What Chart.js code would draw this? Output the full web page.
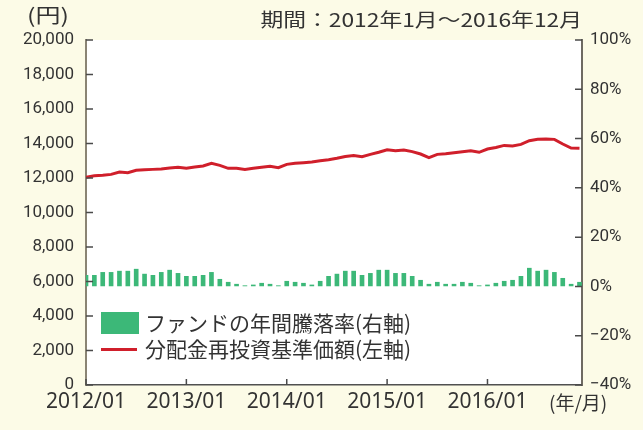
<!DOCTYPE html>
<html><head><meta charset="utf-8">
<script src="https://cdn.jsdelivr.net/npm/chart.js@4.4.0/dist/chart.umd.min.js"></script>
<style>
html,body{margin:0;padding:0;background:#fcfbe7;}
#wrap{position:relative;width:643px;height:430px;overflow:hidden;background:#fcfbe7;}
canvas{position:absolute;left:0;top:0;}
.t{position:absolute;font-family:'Noto Sans CJK JP','Noto Sans',sans-serif;color:#333;white-space:nowrap;line-height:1;}
</style></head><body>
<div id="wrap">
<canvas id="c" width="643" height="430"></canvas>
<div class="t" id="title" style="right:61px;top:9px;font-size:19px;transform:scaleX(1.2);transform-origin:right center;">期間：2012年1月～2016年12月</div>
<div class="t" id="unitL" style="left:27px;top:5px;font-size:20px;transform:scaleX(1.25);transform-origin:left center;">(円)</div>
<div class="t" id="unitX" style="left:549px;top:392px;font-size:19px;">(年/月)</div>
<div style="position:absolute;left:101px;top:312px;width:38px;height:22px;background:#3cb878;"></div>
<div class="t" style="left:145px;top:312px;font-size:21px;">ファンドの年間騰落率(右軸)</div>
<div style="position:absolute;left:101px;top:347.5px;width:36px;height:3px;background:#d01f2b;"></div>
<div class="t" style="left:145px;top:338px;font-size:21px;">分配金再投資基準価額(左軸)</div>
</div>
<script>
// ---- data ----
const years = ['2012','2013','2014','2015','2016'];
const months = [];
years.forEach(y => { for (let m = 1; m <= 12; m++) months.push(y + '/' + String(m).padStart(2,'0')); });

const navValues = [
  12040,12130,12155,12210,12350,12310,12445,12480,12500,12520,12580,12620,
  12560,12640,12700,12850,12730,12560,12560,12500,12560,12620,12680,12600,
  12790,12850,12890,12930,13000,13060,13140,13250,13310,13230,13370,13490,
  13640,13580,13620,13530,13390,13180,13370,13410,13470,13520,13580,13490,
  13680,13770,13890,13860,13950,14160,14240,14260,14240,13970,13740,13720
];
const annualReturn = [
  4.5,4.5,5.7,5.7,6.2,6.2,7.0,5.0,4.5,5.7,6.6,5.3,
  4.1,4.1,4.5,5.7,2.9,1.7,0.9,0.3,0.6,1.3,0.9,0.3,
  2.1,1.7,1.3,0.6,2.1,4.1,5.0,6.2,6.2,4.5,5.3,6.6,
  6.6,5.3,5.3,4.1,2.5,0.9,1.7,0.9,0.9,1.7,1.3,0.3,
  0.6,1.3,2.1,2.5,4.1,7.4,6.2,6.6,5.7,3.3,0.9,1.7
];
const xTickIndex = [0,12,24,36,48];
const xTickLabels = ['2012/01','2013/01','2014/01','2015/01','2016/01'];
const leftTickValues = [0,2000,4000,6000,8000,10000,12000,14000,16000,18000,20000];
const rightTickValues = [-40,-20,0,20,40,60,80,100];

const RED = '#d01f2b', GREEN = '#3cb878';

const bgPlugin = {
  id: 'bg',
  beforeDraw(chart) {
    const {ctx, chartArea: a} = chart;
    ctx.save();
    ctx.fillStyle = '#ffffff';
    ctx.fillRect(a.left, a.top, a.right - a.left, a.bottom - a.top);
    ctx.restore();
  }
};
const innerTicks = {
  id: 'innerTicks',
  afterDraw(chart) {
    const {ctx, chartArea: a, scales} = chart;
    ctx.save();
    ctx.strokeStyle = '#4a4a4a';
    ctx.lineWidth = 1.5;
    ctx.beginPath();
    scales.yL.ticks.forEach(t => { const y = scales.yL.getPixelForValue(t.value); ctx.moveTo(a.left, y); ctx.lineTo(a.left + 7, y); });
    scales.yR.ticks.forEach(t => { const y = scales.yR.getPixelForValue(t.value); ctx.moveTo(a.right, y); ctx.lineTo(a.right - 7, y); });
    scales.x.ticks.forEach(t => { const x = scales.x.getPixelForValue(t.value); ctx.moveTo(x, a.bottom); ctx.lineTo(x, a.bottom - 6); });
    ctx.stroke();
    ctx.restore();
  }
};

const tickFont = {family: "Roboto, sans-serif", size: 17};

new Chart(document.getElementById('c'), {
  type: 'bar',
  data: {
    datasets: [
      {
        type: 'line',
        label: '分配金再投資基準価額(左軸)',
        data: navValues.map((v, i) => ({x: i, y: v})),
        yAxisID: 'yL',
        borderColor: RED,
        borderWidth: 3,
        pointRadius: 0,
        tension: 0,
        order: 1
      },
      {
        type: 'bar',
        label: 'ファンドの年間騰落率(右軸)',
        data: annualReturn.map((v, i) => ({x: i, y: v})),
        yAxisID: 'yR',
        backgroundColor: GREEN,
        barThickness: 4,
        order: 2
      }
    ]
  },
  options: {
    responsive: false,
    devicePixelRatio: 1,
    animation: false,
    layout: {padding: {top: 40, left: 0, right: 0, bottom: 0}},
    plugins: {legend: {display: false}, tooltip: {enabled: false}},
    scales: {
      x: {
        type: 'linear',
        min: 0, max: 59.3,
        offset: false,
        grid: {display: true, offset: false, drawOnChartArea: false, drawTicks: false},
        border: {display: true, color: '#505050', width: 1.5},
        afterBuildTicks: s => { s.ticks = xTickIndex.map(v => ({value: v})); },
        afterFit: s => { s.height = 45; },
        ticks: {
          autoSkip: false, maxRotation: 0, padding: 4,
          color: '#333',
          font: {family: "'Noto Sans', Roboto, sans-serif", size: 21},
          callback: v => xTickLabels[xTickIndex.indexOf(v)]
        }
      },
      yL: {
        position: 'left',
        min: 0, max: 20000,
        grid: {display: true, drawOnChartArea: false, drawTicks: false},
        border: {display: true, color: '#8a8474', width: 2},
        afterBuildTicks: s => { s.ticks = leftTickValues.map(v => ({value: v})); },
        afterFit: s => { s.width = 86; },
        ticks: {
          padding: 12, color: '#333', font: tickFont,
          callback: v => v.toLocaleString('en-US')
        }
      },
      yR: {
        position: 'right',
        min: -40, max: 100,
        grid: {display: true, drawOnChartArea: false, drawTicks: false},
        border: {display: true, color: '#6e6a62', width: 2},
        afterBuildTicks: s => { s.ticks = rightTickValues.map(v => ({value: v})); },
        afterFit: s => { s.width = 61; },
        ticks: {
          padding: 8, color: '#333', font: tickFont,
          callback: v => (v < 0 ? '\u2212' + Math.abs(v) : v) + '%'
        }
      }
    }
  },
  plugins: [bgPlugin, innerTicks]
});
</script>
</body></html>
